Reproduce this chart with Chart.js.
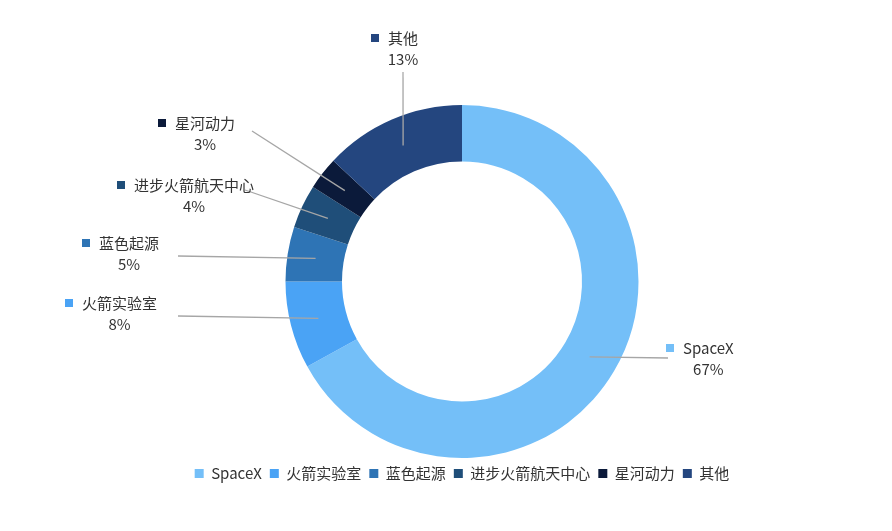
<!DOCTYPE html>
<html><head><meta charset="utf-8">
<script src="https://cdn.jsdelivr.net/npm/chart.js@4/dist/chart.umd.min.js"></script>
<style>body{margin:0;background:#fff}#w{width:892px;height:531px}</style></head>
<body><div id="w"><canvas id="c"></canvas></div>
<script>
const categories=['SpaceX','火箭实验室','蓝色起源','进步火箭航天中心','星河动力','其他'];
const values=[67,8,5,4,3,13];
const colors=['#74BFF8','#4AA3F5','#2E74B5','#1F4E79','#0B1A3A','#24467F'];
// label anchor (square marker position) and leader end, layout only
const labelPos=[{sx:670,sy:348,lx:668,ly:358},{sx:69,sy:303,lx:178,ly:316},{sx:86,sy:243,lx:178,ly:256},{sx:121,sy:185,lx:245,ly:190},{sx:162,sy:123,lx:252,ly:131},{sx:375,sy:38,lx:403,ly:72}];
const FONT='"Noto Sans CJK SC","Noto Sans",sans-serif';
const labelPlugin={id:'lbl',afterDatasetsDraw(ch){
 const ctx=ch.ctx,meta=ch.getDatasetMeta(0);
 meta.data.forEach((arc,i)=>{
  const p=labelPos[i];const a=(arc.startAngle+arc.endAngle)/2;const r=(arc.innerRadius+arc.outerRadius)/2;
  const x0=arc.x+Math.cos(a)*r,y0=arc.y+Math.sin(a)*r;
  ctx.save();ctx.strokeStyle='#a6a6a6';ctx.lineWidth=1.3;ctx.beginPath();ctx.moveTo(x0,y0);ctx.lineTo(p.lx,p.ly);ctx.stroke();
  ctx.fillStyle=colors[i];ctx.fillRect(p.sx-4,p.sy-4,8,8);
  ctx.fillStyle='#333';ctx.font='15px '+FONT;ctx.textBaseline='middle';
  ctx.textAlign='left';ctx.fillText(categories[i],p.sx+13,p.sy);
  const w=ctx.measureText(categories[i]).width;
  ctx.textAlign='center';ctx.fillText(values[i]+'%',p.sx+13+w/2,p.sy+21);
  ctx.restore();
 });
}};
new Chart(document.getElementById('c'),{type:'doughnut',
 data:{labels:categories,datasets:[{data:values,backgroundColor:colors,borderWidth:0}]},
 options:{responsive:true,maintainAspectRatio:false,animation:false,cutout:'68%',
  layout:{padding:{top:105,left:32,right:0,bottom:40}},
  plugins:{tooltip:{enabled:false},
   legend:{position:'bottom',labels:{usePointStyle:true,pointStyle:'rect',boxWidth:9,boxHeight:9,padding:8,color:'#333',font:{size:15,family:FONT}}}}},
 plugins:[labelPlugin]});
</script></body></html>
